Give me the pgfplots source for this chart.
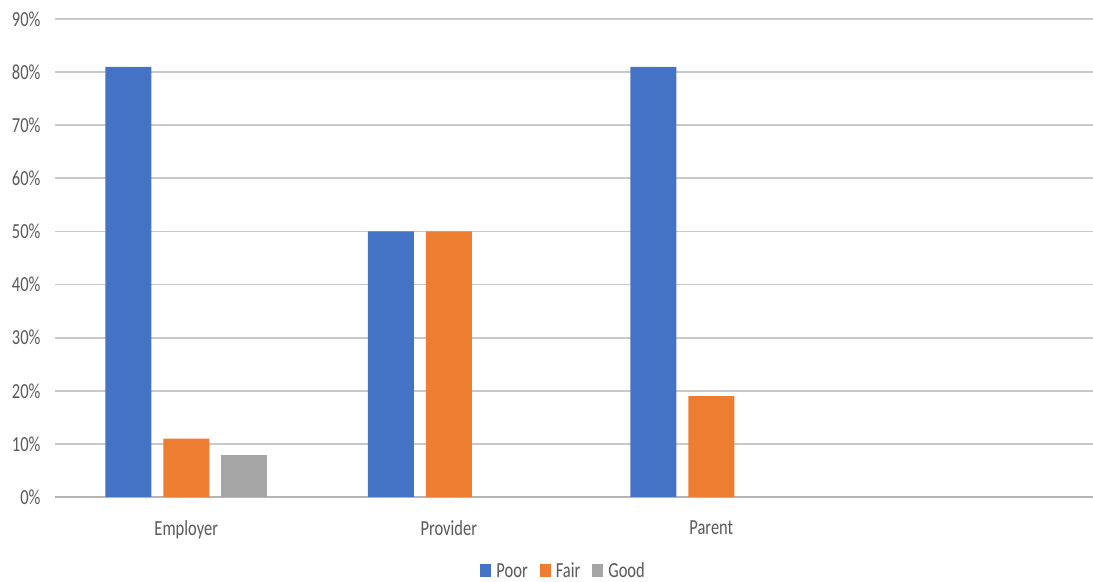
\documentclass[border=0pt]{standalone}
\usepackage{pgfplots}
\pgfplotsset{compat=1.18}
\usepackage{fontspec}
\setmainfont{Carlito}
\definecolor{cPoor}{HTML}{4472C4}
\definecolor{cFair}{HTML}{ED7D31}
\definecolor{cGood}{HTML}{A5A5A5}
\definecolor{gridc}{HTML}{C8C8C8}
\definecolor{txt}{HTML}{595959}
\newcommand{\tx}[1]{\scalebox{1}[1.3]{#1}}
\begin{document}
\begin{tikzpicture}
\begin{axis}[
  name=ax,
  scale only axis,
  width=1038pt, height=478pt,
  ybar=12pt, bar width=46pt,
  xmin=-0.5, xmax=3.454,
  ymin=0, ymax=90,
  ytick={0,10,...,90},
  xtick={0,1,2},
  xticklabels={{\tx{Employer}},{\tx{Provider}},{\tx{Parent}}},
  yticklabel={\tx{\pgfmathprintnumber{\tick}\%}},
  /pgf/number format/assume math mode=true,
  ymajorgrids,
  grid style={gridc, line width=1.8pt},
  axis y line*=left,
  y axis line style={draw=none},
  axis x line*=bottom,
  x axis line style={draw=gridc!90!black, line width=1.8pt, -},
  major tick length=0pt,
  tick label style={font=\fontsize{16.5}{19}\selectfont, text=txt},
  yticklabel style={xshift=-11pt},
  xticklabel style={yshift=-20pt},
  legend style={at={(0.49,-0.155)}, anchor=center, draw=none, legend columns=-1,
    font=\fontsize{16.5}{19}\selectfont, text=txt,
    /tikz/every odd column/.append style={column sep=3pt},
    /tikz/every even column/.append style={column sep=10pt}},
  legend image code/.code={\fill[#1, draw=none] (0pt,-6pt) rectangle (11pt,7pt);},
  clip=false,
]
\addplot[fill=cPoor, draw=none] coordinates {(0,81) (1,50) (2,81)};
\addplot[fill=cFair, draw=none] coordinates {(0,11) (1,50) (2,19)};
\addplot[fill=cGood, draw=none] coordinates {(0,8)};
\legend{\tx{Poor},\tx{Fair},\tx{Good}}
\end{axis}
\pgfresetboundingbox
\path[use as bounding box] ([xshift=-55pt,yshift=-85pt]ax.south west) rectangle ([yshift=19pt]ax.north east);
\end{tikzpicture}
\end{document}
